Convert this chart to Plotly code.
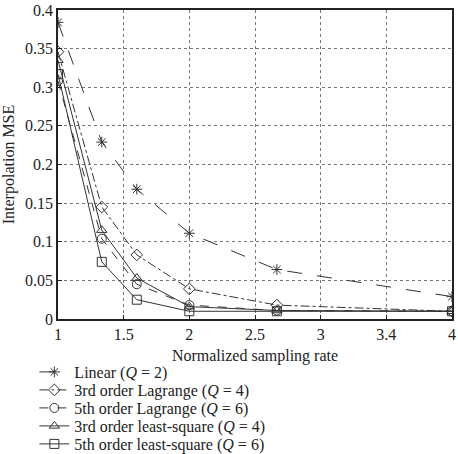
import plotly.graph_objects as go

x = [1, 4/3, 1.6, 2, 8/3, 4]
linear = [0.384, 0.229, 0.168, 0.111, 0.064, 0.029]
lag3 = [0.346, 0.145, 0.083, 0.039, 0.018, 0.010]
lag5 = [0.308, 0.104, 0.045, 0.018, 0.011, 0.010]
ls3 = [0.335, 0.115, 0.053, 0.016, 0.011, 0.010]
ls5 = [0.317, 0.074, 0.025, 0.010, 0.010, 0.010]

xtick_vals = [1, 1.5, 2, 2.5, 3, 3.5, 4]
xtick_text = ["1", "1.5", "2", "2.5", "3", "3.4", "4"]
ytick_vals = [0, 0.05, 0.1, 0.15, 0.2, 0.25, 0.3, 0.35, 0.4]
ytick_text = ["0", "0.05", "0.1", "0.15", "0.2", "0.25", "0.3", "0.35", "0.4"]

series = [
    ("Linear (<i>Q</i> = 2)", linear, "asterisk-open", "longdash"),
    ("3rd order Lagrange (<i>Q</i> = 4)", lag3, "diamond-open", "dashdot"),
    ("5th order Lagrange (<i>Q</i> = 6)", lag5, "circle-open", "dash"),
    ("3rd order least-square (<i>Q</i> = 4)", ls3, "triangle-up-open", "solid"),
    ("5th order least-square (<i>Q</i> = 6)", ls5, "square-open", "solid"),
]

font = "Liberation Serif, Times New Roman, serif"
fig = go.Figure()
legend_layout = {}
for i, (name, ys, sym, dash) in enumerate(series):
    lg = "legend" if i == 0 else f"legend{i + 1}"
    fig.add_trace(go.Scatter(
        x=x, y=ys, name=name, mode="lines+markers", legend=lg,
        line=dict(color="#333333", width=1, dash=dash),
        marker=dict(symbol=sym, size=9, color="#333333",
                    line=dict(color="#333333", width=1)),
    ))
    center_px = 372 + i * 18
    legend_layout[lg] = dict(
        x=-0.06, y=-(center_px - 319) / 309, xanchor="left", yanchor="middle",
        font=dict(family=font, size=16, color="#222222"),
        itemwidth=30, bgcolor="rgba(0,0,0,0)", borderwidth=0,
    )

fig.update_layout(
    width=458, height=454,
    margin=dict(l=58, r=6, t=10, b=135, autoexpand=False),
    paper_bgcolor="white", plot_bgcolor="white",
    font=dict(family=font, size=16, color="#222222"),
    showlegend=True,
    xaxis=dict(range=[1, 4], tickvals=xtick_vals, ticktext=xtick_text,
               showgrid=True, gridcolor="#777777", griddash="dot", gridwidth=1,
               showline=True, linecolor="#222222", linewidth=1.5, mirror=True,
               ticks="inside", ticklen=4, tickcolor="#222222",
               zeroline=False, automargin=False,
               title=dict(text="Normalized sampling rate", standoff=8,
                          font=dict(size=16))),
    yaxis=dict(range=[0, 0.4], tickvals=ytick_vals, ticktext=ytick_text,
               showgrid=True, gridcolor="#777777", griddash="dot", gridwidth=1,
               showline=True, linecolor="#222222", linewidth=1.5, mirror=True,
               ticks="inside", ticklen=4, tickcolor="#222222",
               zeroline=False, automargin=False,
               title=dict(text="Interpolation MSE", standoff=6,
                          font=dict(size=16))),
    **legend_layout,
)

fig.write_html("out.html")
